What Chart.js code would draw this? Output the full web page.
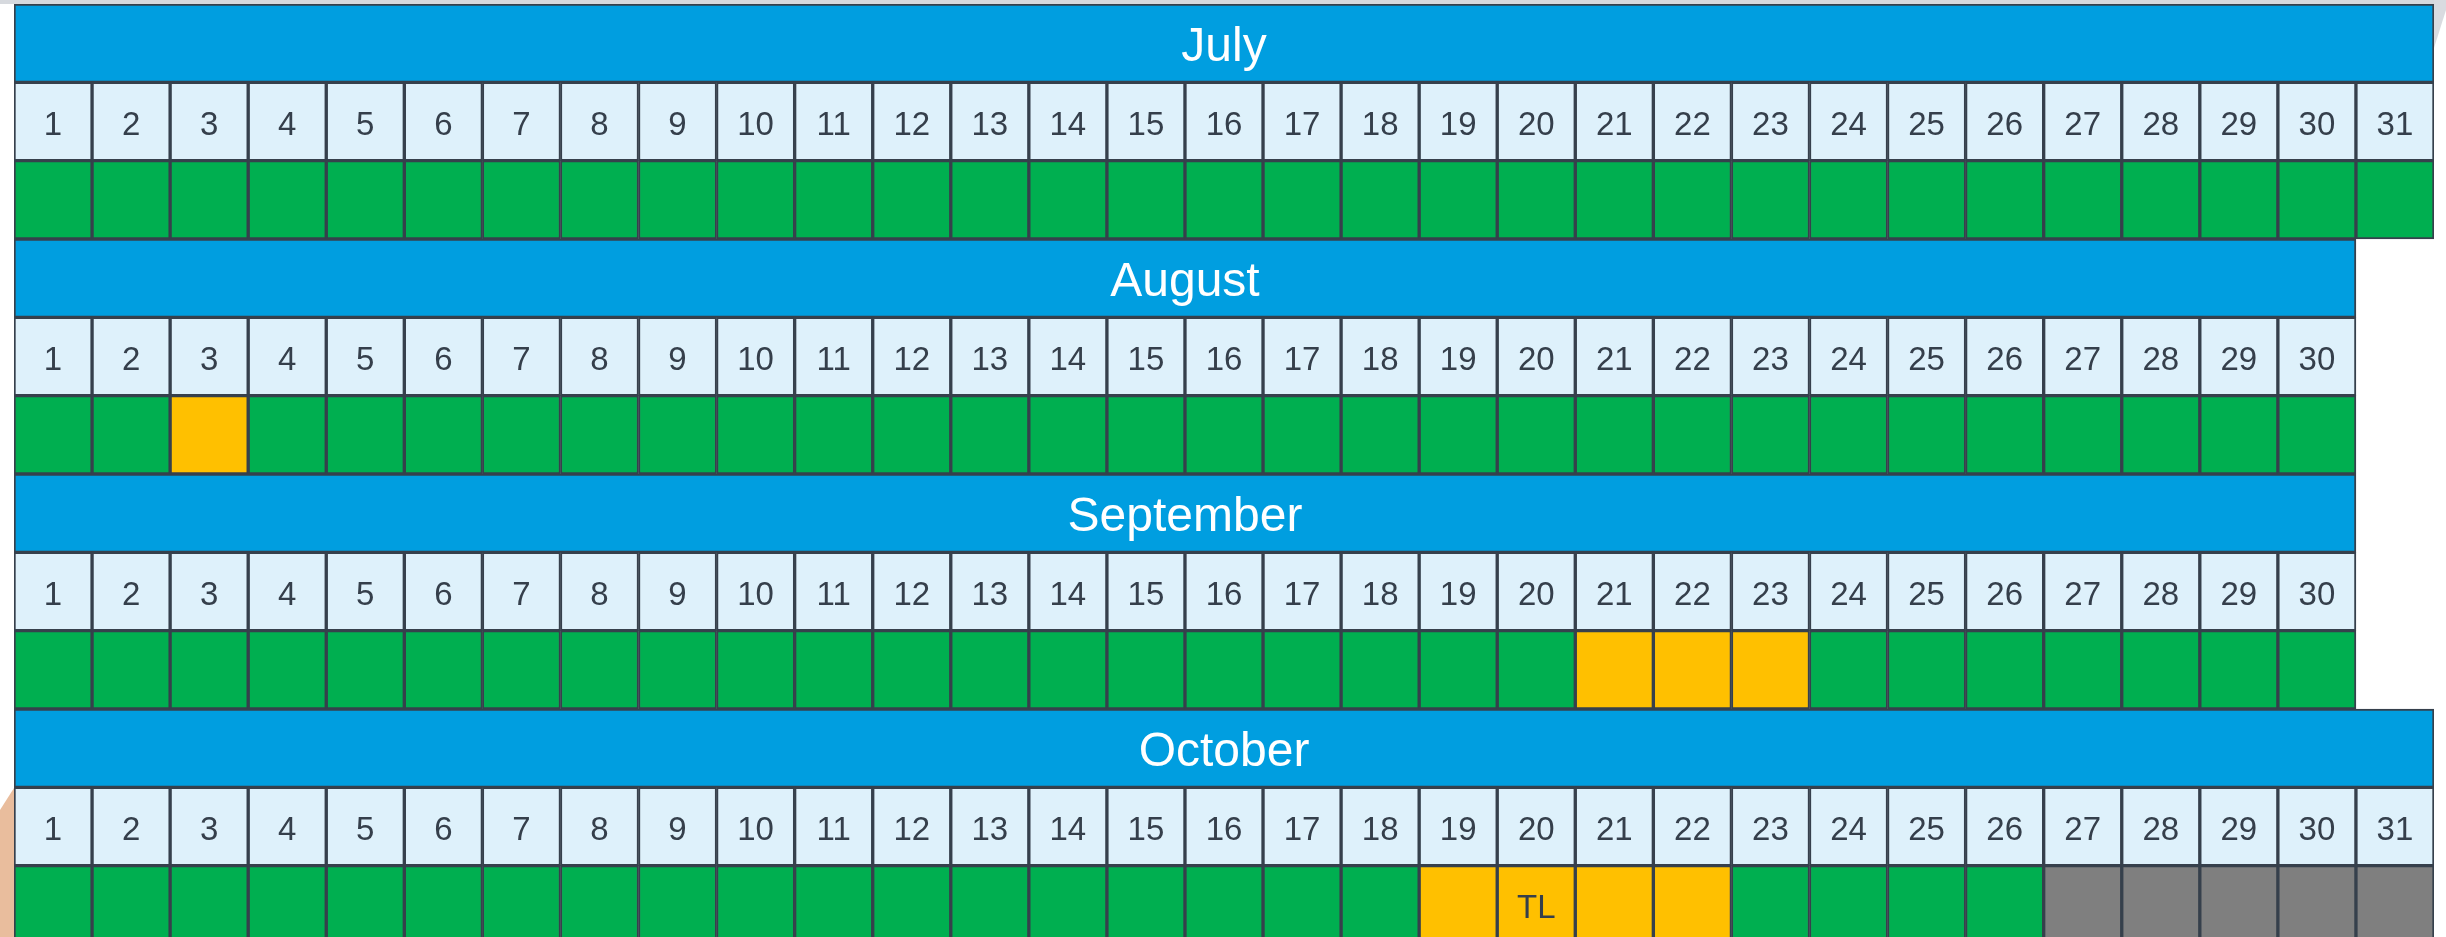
<!DOCTYPE html>
<html>
<head>
<meta charset="utf-8">
<script src="https://cdn.jsdelivr.net/npm/chart.js@4/dist/chart.umd.min.js"></script>
<style>
  html, body { margin: 0; padding: 0; background: #ffffff; overflow: hidden; }
  #wrap { position: relative; width: 2446px; height: 937px; overflow: hidden; }
  #topband { position: absolute; left: 0; top: 0; width: 2446px; height: 4px; background: #d6d9de; }
  #wedge { position: absolute; left: 2420px; top: 0; width: 26px; height: 60px; background: #d9dbe0;
    clip-path: polygon(14px 0, 26px 0, 26px 10px, 14px 48px); }
  #peach { position: absolute; left: 0; top: 780px; width: 16px; height: 157px; background: #e9bd9d;
    clip-path: polygon(14px 8px, 14px 157px, 0 157px, 0 30px); }
  #cal { position: absolute; left: 0; top: 0; }
</style>
</head>
<body>
<div id="wrap">
  <div id="topband"></div>
  <div id="wedge"></div>
  <div id="peach"></div>
  <canvas id="cal" width="2446" height="944"></canvas>
</div>
<script>
// months shown, and how many day columns each one has in the picture
const months = ['July', 'August', 'September', 'October']
const monthDays = [31, 30, 30, 31]

// status of each day: G = green, Y = amber, X = grey (not yet)
const julyStatus = ['G','G','G','G','G','G','G','G','G','G','G','G','G','G','G','G','G','G','G','G','G','G','G','G','G','G','G','G','G','G','G']
const augustStatus = ['G','G','Y','G','G','G','G','G','G','G','G','G','G','G','G','G','G','G','G','G','G','G','G','G','G','G','G','G','G','G']
const septemberStatus = ['G','G','G','G','G','G','G','G','G','G','G','G','G','G','G','G','G','G','G','G','Y','Y','Y','G','G','G','G','G','G','G']
const octoberStatus = ['G','G','G','G','G','G','G','G','G','G','G','G','G','G','G','G','G','G','Y','Y','Y','Y','G','G','G','G','X','X','X','X','X']
const statusByMonth = [julyStatus, augustStatus, septemberStatus, octoberStatus]

// text written inside a status cell
const cellNotes = [{month: 'October', day: 20, text: 'TL'}]

const statusColors = {G: '#00af50', Y: '#ffc000', X: '#7f7f7f'}
const lineColor = '#36404c'
const textColor = '#353f4b'

// one category row per band: title, day numbers, status
var rowLabels = []
months.forEach(function(m){
  rowLabels.push(m + ' title', m + ' days', m + ' status')
})

var titleData = [], dayData = [], statusData = [], statusFill = []
months.forEach(function(m, i){
  titleData.push({x: [0, monthDays[i]], y: m + ' title', text: m})
  for (var d = 1; d <= monthDays[i]; d++){
    dayData.push({x: [d - 1, d], y: m + ' days', text: String(d)})
    var note = cellNotes.find(function(n){ return n.month == m && n.day == d })
    statusData.push({x: [d - 1, d], y: m + ' status', text: note ? note.text : ''})
    statusFill.push(statusColors[statusByMonth[i][d - 1]])
  }
})

// writes the labels into the middle of each bar
const cellText = {
  id: 'cellText',
  afterDatasetsDraw(chart){
    var ctx = chart.ctx
    ctx.save()
    ctx.textAlign = 'center'
    ctx.textBaseline = 'middle'
    chart.data.datasets.forEach(function(ds, k){
      var meta = chart.getDatasetMeta(k)
      ctx.font = k == 0 ? '48px "Liberation Sans", Arial, sans-serif' : '33px "Liberation Sans", Arial, sans-serif'
      ctx.fillStyle = k == 0 ? '#ffffff' : textColor
      var dy = k == 0 ? 5 : 4
      meta.data.forEach(function(bar, j){
        var t = ds.data[j].text
        if (!t) return
        var p = bar.getCenterPoint()
        ctx.fillText(t, p.x, p.y + dy)
      })
    })
    ctx.restore()
  }
}

new Chart('cal', {
  type: 'bar',
  data: {
    datasets: [{
      label: 'Month',
      data: titleData,
      backgroundColor: '#009ee0'
    }, {
      label: 'Day',
      data: dayData,
      backgroundColor: '#def1fb'
    }, {
      label: 'Status',
      data: statusData,
      backgroundColor: statusFill
    }]
  },
  options: {
    responsive: false,
    animation: false,
    indexAxis: 'y',
    layout: {padding: {left: 14, right: 12, top: 4, bottom: 0}},
    datasets: {
      bar: {
        grouped: false,
        categoryPercentage: 1,
        barPercentage: 1,
        borderWidth: 2,
        borderColor: lineColor,
        borderSkipped: false
      }
    },
    scales: {
      x: {type: 'linear', min: 0, max: 31, display: false},
      y: {type: 'category', labels: rowLabels, display: false}
    },
    plugins: {
      legend: {display: false},
      tooltip: {enabled: false}
    }
  },
  plugins: [cellText]
})
</script>
</body>
</html>
